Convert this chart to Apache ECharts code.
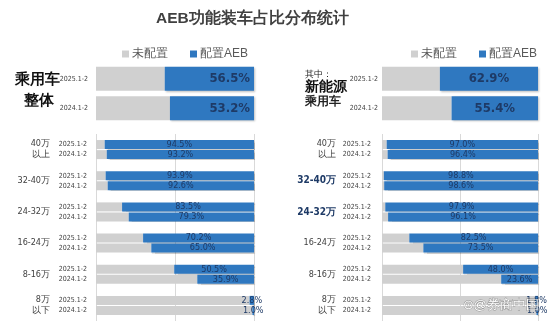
<!DOCTYPE html>
<html><head><meta charset="utf-8">
<script src="https://cdn.jsdelivr.net/npm/echarts@6/dist/echarts.min.js"></script>
<style>html,body{margin:0;padding:0;background:#fff}#c{width:557px;height:325px}</style>
</head><body><div id="c"></div>
<script>
const titleText = 'AEB功能装车占比分布统计';
const legendNames = ['未配置', '配置AEB'];
const years = ['2025.1-2', '2024.1-2'];
const priceBands = ['40万\n以上', '32-40万', '24-32万', '16-24万', '8-16万', '8万\n以下'];
const leftTop = [56.5, 53.2];
const rightTop = [62.9, 55.4];
const left2025 = [94.5, 93.9, 83.5, 70.2, 50.5, 2.8];
const left2024 = [93.2, 92.6, 79.3, 65.0, 35.9, 1.0];
const right2025 = [97.0, 98.8, 97.9, 82.5, 48.0, 1.8];
const right2024 = [96.4, 98.6, 96.1, 73.5, 23.6, 1.0];

const GRAY = '#d0d0d0', BLUE = '#2f78c0', LBL = '#1e3a66', TXT = '#404040';
const NARROW = '"Liberation Sans Narrow","DejaVu Sans Condensed","Roboto",sans-serif';
const rest = a => a.map(v => +(100 - v).toFixed(1));
const pct = p => p.value.toFixed(1) + '%';

const chart = echarts.init(document.getElementById('c'), null, {renderer: 'canvas'});

function xAx(gi, split) {
  return {gridIndex: gi, type: 'value', min: 0, max: 100, interval: 50, show: split,
    axisLine: {show: false}, axisTick: {show: false}, axisLabel: {show: false},
    splitLine: {show: split, lineStyle: {color: '#d9d9d9', width: 1}}};
}
function topY(gi, margin) {
  return {gridIndex: gi, type: 'category', data: years, inverse: true,
    axisLine: {show: false}, axisTick: {show: false},
    axisLabel: {margin: margin, fontSize: 7, color: TXT, fontFamily: NARROW}};
}
function lowY(gi, boldIdx) {
  return {gridIndex: gi, type: 'category', data: priceBands, inverse: true,
    axisLine: {show: false}, axisTick: {show: false},
    axisLabel: {margin: 46, fontSize: 9, color: TXT, fontFamily: NARROW, lineHeight: 11, align: 'right',
      formatter: (v, i) => boldIdx.includes(i) ? '{b|' + v + '}' : v,
      rich: {b: {fontSize: 10, fontWeight: 'bold', color: '#1e3a66', fontFamily: NARROW}}}};
}
const topSeries = (gi, vals, pos) => [
  {name: legendNames[0], type: 'bar', stack: 't' + gi, xAxisIndex: gi, yAxisIndex: gi,
   data: rest(vals), itemStyle: {color: GRAY}, barCategoryGap: '19%', silent: true},
  {name: legendNames[1], type: 'bar', stack: 't' + gi, xAxisIndex: gi, yAxisIndex: gi,
   data: vals, itemStyle: {color: BLUE, shadowColor: 'rgba(0,0,0,0.25)', shadowBlur: 2, shadowOffsetX: 1, shadowOffsetY: 1},
   barCategoryGap: '19%',
   label: {show: true, position: pos, distance: 4, formatter: pct, color: LBL, fontSize: 13,
     fontFamily: NARROW, fontWeight: 'bold'}}
];
const lowSeries = (gi, vals, stackKey, yearIdx, dist) => [
  {name: legendNames[0], type: 'bar', stack: stackKey, xAxisIndex: gi, yAxisIndex: gi,
   data: rest(vals), itemStyle: {color: GRAY}, barWidth: 9, barGap: '12%',
   label: {show: true, position: 'left', distance: dist, formatter: () => years[yearIdx],
     color: TXT, fontSize: 7, fontFamily: NARROW}},
  {name: legendNames[1], type: 'bar', stack: stackKey, xAxisIndex: gi, yAxisIndex: gi,
   data: vals, itemStyle: {color: BLUE, shadowColor: 'rgba(0,0,0,0.2)', shadowBlur: 1, shadowOffsetX: 1, shadowOffsetY: 1},
   barWidth: 9, barGap: '12%',
   label: {show: true, position: 'inside', formatter: pct, color: LBL, fontSize: 9, fontFamily: NARROW}}
];

const legendBase = {data: legendNames, icon: 'rect', itemWidth: 7, itemHeight: 7, itemGap: 22,
  textStyle: {fontSize: 12, color: '#595959', padding: [0, 0, 0, -2]}, selectedMode: false};

chart.setOption({
  animation: false,
  title: {text: titleText, left: 151, top: 6,
    textStyle: {fontSize: 15.5, fontWeight: 'bold', color: TXT}},
  legend: [Object.assign({left: 117, top: 43}, legendBase), Object.assign({left: 406, top: 43}, legendBase)],
  grid: [
    {left: 96, width: 158, top: 64, height: 59},
    {left: 382, width: 156, top: 64, height: 59},
    {left: 96, width: 158, top: 134, height: 187},
    {left: 382, width: 156, top: 134, height: 187}
  ],
  xAxis: [xAx(0, false), xAx(1, false), xAx(2, true), xAx(3, true)],
  yAxis: [topY(0, 8), topY(1, 4), lowY(2, []), lowY(3, [1, 2])],
  series: [].concat(
    topSeries(0, leftTop, 'insideRight'),
    topSeries(1, rightTop, 'inside'),
    lowSeries(2, left2025, 'l25', 0, 9),
    lowSeries(2, left2024, 'l24', 1, 9),
    lowSeries(3, right2025, 'r25', 0, 11),
    lowSeries(3, right2024, 'r24', 1, 11)
  ),
  graphic: [
    {type: 'text', left: 15, top: 72, style: {text: '乘用车', fontSize: 15, fontWeight: 'bold', fill: '#111'}},
    {type: 'text', left: 24, top: 93, style: {text: '整体', fontSize: 15, fontWeight: 'bold', fill: '#111'}},
    {type: 'text', left: 305, top: 70, style: {text: '其中：', fontSize: 9, fill: '#222'}},
    {type: 'text', left: 305, top: 80, style: {text: '新能源', fontSize: 14, fontWeight: 'bold', fill: '#111'}},
    {type: 'text', left: 305, top: 96, style: {text: '乘用车', fontSize: 12, fontWeight: 'bold', fill: '#222'}},
    {type: 'text', left: 462, top: 298, z: 100, style: {text: '⊙@券商中国', fontSize: 13, fill: '#fff',
      stroke: 'rgba(0,0,0,0.3)', lineWidth: 1}}
  ]
});
</script></body></html>
